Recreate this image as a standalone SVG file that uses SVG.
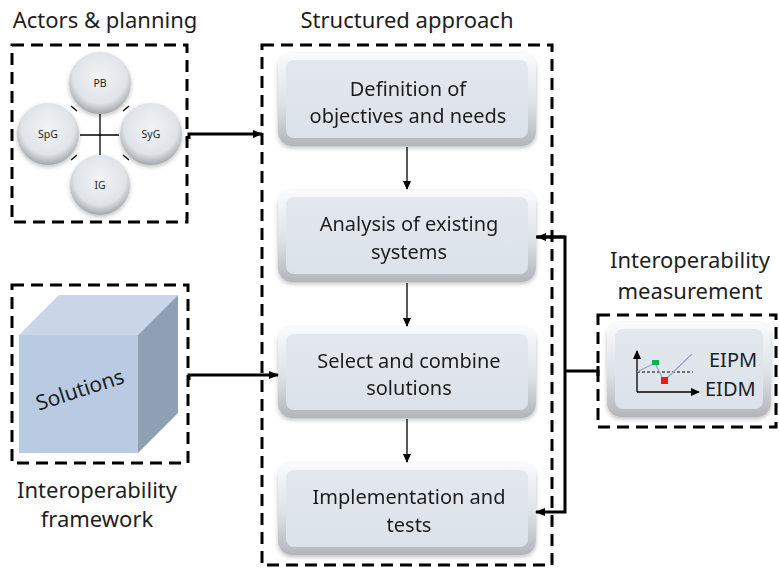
<svg xmlns="http://www.w3.org/2000/svg" width="779" height="568" viewBox="0 0 779 568">
<defs>
<style>
.dash{fill:none;stroke:#000;stroke-width:3;stroke-dasharray:12 7}
.t{font-family:"Noto Sans","Open Sans",sans-serif;fill:#1e1e1e;text-anchor:middle}
.title{font-size:22px}
.box{font-size:20px}
.thick{fill:none;stroke:#000;stroke-width:3}
.thin{fill:none;stroke:#000;stroke-width:1.3}
.small{font-size:10.5px}
</style>
<linearGradient id="bevel" x1="0" y1="0" x2="0" y2="1">
<stop offset="0" stop-color="#fafbfc"/>
<stop offset="0.55" stop-color="#dde1e6"/>
<stop offset="1" stop-color="#b2b6bb"/>
</linearGradient>
<linearGradient id="face" x1="0" y1="0" x2="0" y2="1">
<stop offset="0" stop-color="#e3e8ee"/>
<stop offset="1" stop-color="#dce2e9"/>
</linearGradient>
<radialGradient id="ball" cx="0.5" cy="0.4" r="0.6">
<stop offset="0" stop-color="#f2f4f6"/>
<stop offset="0.72" stop-color="#dfe3e8"/>
<stop offset="1" stop-color="#a3a7ac"/>
</radialGradient>
<filter id="sh" x="-10%" y="-10%" width="120%" height="130%">
<feGaussianBlur in="SourceAlpha" stdDeviation="2"/>
<feOffset dy="2"/>
<feComponentTransfer><feFuncA type="linear" slope="0.25"/></feComponentTransfer>
<feMerge><feMergeNode/><feMergeNode in="SourceGraphic"/></feMerge>
</filter>
<marker id="ah" markerWidth="10" markerHeight="8" refX="9" refY="4" orient="auto" markerUnits="userSpaceOnUse">
<path d="M0,0 L10,4 L0,8 Z" fill="#000"/>
</marker>
<marker id="ahs" markerWidth="9" markerHeight="8" refX="8" refY="4" orient="auto" markerUnits="userSpaceOnUse">
<path d="M0,0 L9,4 L0,8 Z" fill="#000"/>
</marker>
</defs>
<rect width="779" height="568" fill="#fff"/>

<g id="actors">
<text class="t title" x="105" y="28">Actors &amp; planning</text>
<rect class="dash" x="12" y="45" width="175" height="177"/>
<g class="thin" stroke-width="1.5">
<line x1="80" y1="135" x2="119" y2="135"/>
<line x1="100" y1="113" x2="100" y2="155"/>
<line x1="71" y1="106" x2="77" y2="111"/>
<line x1="129" y1="106" x2="123" y2="111"/>
<line x1="71" y1="160" x2="77" y2="155"/>
<line x1="129" y1="160" x2="123" y2="155"/>
</g>
<g filter="url(#sh)">
<circle cx="100" cy="83" r="31" fill="url(#ball)"/>
<circle cx="48" cy="134" r="31" fill="url(#ball)"/>
<circle cx="151" cy="134" r="31" fill="url(#ball)"/>
<circle cx="100" cy="185" r="30" fill="url(#ball)"/>
</g>
<text class="t small" x="100" y="87">PB</text>
<text class="t small" x="48" y="138">SpG</text>
<text class="t small" x="151" y="138">SyG</text>
<text class="t small" x="100" y="189">IG</text>
</g>

<g id="framework">
<rect class="dash" x="12" y="285" width="176" height="178"/>
<polygon points="19,335 59,295 178,295 138,335" fill="#c9d6e7"/>
<polygon points="138,335 178,295 178,413 138,453" fill="#8f9fb4"/>
<rect x="19" y="335" width="119" height="118" fill="#b8cbe3"/>
<text class="t" style="font-size:21px" x="80" y="397" transform="rotate(-18 80 390)">Solutions</text>
<text class="t title" x="97" y="498">Interoperability</text>
<text class="t title" x="97" y="527">framework</text>
</g>

<g id="structured">
<text class="t title" x="407" y="28">Structured approach</text>
<rect class="dash" x="262" y="45" width="290" height="520"/>
</g>

<g id="def" filter="url(#sh)">
<rect x="278" y="53" width="258" height="93" rx="14" fill="url(#bevel)"/>
<rect x="286" y="60" width="242" height="78" rx="8" fill="url(#face)"/>
<text class="t box" x="408" y="96">Definition of</text>
<text class="t box" x="408" y="123">objectives and needs</text>
</g>
<g id="analysis" filter="url(#sh)">
<rect x="278" y="190" width="258" height="92" rx="14" fill="url(#bevel)"/>
<rect x="286" y="197" width="242" height="77" rx="8" fill="url(#face)"/>
<text class="t box" x="409" y="231">Analysis of existing</text>
<text class="t box" x="409" y="259">systems</text>
</g>
<g id="select" filter="url(#sh)">
<rect x="278" y="327" width="258" height="91" rx="14" fill="url(#bevel)"/>
<rect x="286" y="334" width="242" height="76" rx="8" fill="url(#face)"/>
<text class="t box" x="409" y="368">Select and combine</text>
<text class="t box" x="409" y="395">solutions</text>
</g>
<g id="impl" filter="url(#sh)">
<rect x="278" y="463" width="258" height="92" rx="14" fill="url(#bevel)"/>
<rect x="286" y="470" width="242" height="77" rx="8" fill="url(#face)"/>
<text class="t box" x="409" y="504">Implementation and</text>
<text class="t box" x="409" y="532">tests</text>
</g>

<g id="measurement">
<text class="t title" x="690" y="268">Interoperability</text>
<text class="t title" x="690" y="299">measurement</text>
<rect class="dash" x="598" y="315" width="178" height="112"/>
<g filter="url(#sh)">
<rect x="607" y="322" width="164" height="95" rx="14" fill="url(#bevel)"/>
<rect x="615" y="329" width="148" height="80" rx="8" fill="url(#face)"/>
</g>
<line x1="637" y1="392" x2="637" y2="351" stroke="#000" stroke-width="1.3" marker-end="url(#ahs)"/>
<line x1="637" y1="392" x2="699" y2="392" stroke="#000" stroke-width="1.3" marker-end="url(#ahs)"/>
<line x1="637" y1="372" x2="693" y2="372" stroke="#000" stroke-width="1.2" stroke-dasharray="3 2"/>
<polyline points="637,372 655,363 664,381 692,354" fill="none" stroke="#a89cc8" stroke-width="1.2"/>
<rect x="652" y="360" width="7" height="5" fill="#10b050"/>
<rect x="661" y="377" width="7" height="7" fill="#e81c1c"/>
<text class="t" x="709" y="367" style="font-size:20px;text-anchor:start">EIPM</text>
<text class="t" x="705" y="396" style="font-size:20px;text-anchor:start">EIDM</text>
</g>

<g id="connectors">
<path class="thick" d="M189,139 V134 H262" marker-end="url(#ah)"/>
<path class="thick" d="M189,380 V375 H278" marker-end="url(#ah)"/>
<line class="thin" x1="407" y1="147" x2="407" y2="189" marker-end="url(#ahs)"/>
<line class="thin" x1="407" y1="283" x2="407" y2="326" marker-end="url(#ahs)"/>
<line class="thin" x1="407" y1="419" x2="407" y2="462" marker-end="url(#ahs)"/>
<path class="thick" d="M536,237 H565 V512 H536" marker-end="url(#ah)"/>
<path class="thick" d="M565,237 H537" marker-end="url(#ah)"/>
<path class="thick" d="M565,371 H598 M598,366 V376"/>
</g>
</svg>
